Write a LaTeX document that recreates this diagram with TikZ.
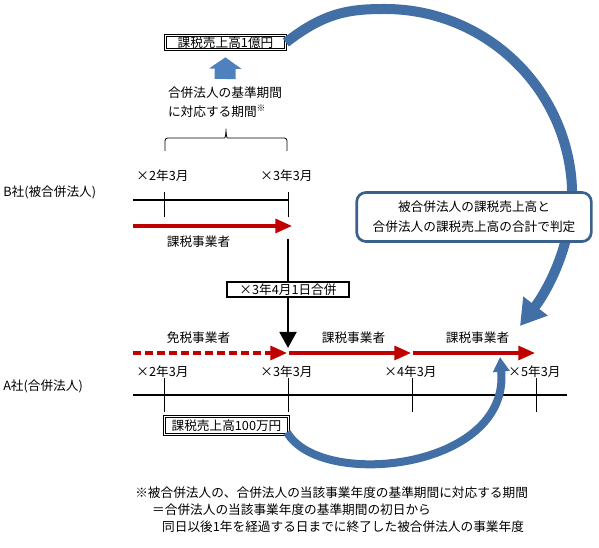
\documentclass[tikz,border=0pt]{standalone}
\usepackage{fontspec}
\setmainfont{Noto Sans CJK JP}
\usepackage{tikz}
\usetikzlibrary{arrows.meta,calc}
\usepackage{xcolor}
\definecolor{taxred}{RGB}{192,0,0}
\definecolor{officeblue}{RGB}{79,129,189}
\definecolor{officeedge}{RGB}{58,96,142}
\definecolor{curveblue}{RGB}{66,111,166}

\begin{document}
\begin{tikzpicture}[x=0.75pt, y=-0.75pt,
    every node/.style={font=\fontsize{9.5}{12.75}\selectfont},
    timeline/.style={line width=1.5pt},
    tickline/.style={line width=0.75pt},
    taxarrow/.style={line width=2.4pt, taxred, -{Triangle[length=12.5pt,width=10.5pt]}},
    freearrow/.style={taxarrow, dash pattern=on 6pt off 3pt},
    mergearrow/.style={line width=2.2pt, -{Triangle[length=12pt,width=12.5pt]}},
    uparrow/.style={line width=15.75pt, officeblue, -{Triangle[length=8.5pt,width=24pt]}},
    curvearrow/.style={curveblue},
    dblbox/.style={draw, double, double distance=1.2pt, line width=0.6pt, fill=white, inner sep=0pt},
    mergebox/.style={draw, line width=1.5pt, fill=white, inner sep=0pt},
    judgebox/.style={draw=officeedge, line width=2pt, rounded corners=7pt, fill=white, align=center,
        font=\fontsize{9.5}{15}\selectfont}
]
    \useasboundingbox (0,0) rectangle (599,548);

    % Threshold box and base period
    \node[dblbox, minimum width=90pt, minimum height=10.5pt] (oku) at (225.5,42.5) {課税売上高1億円};
    \node[anchor=north, align=left, inner sep=0pt, font=\fontsize{9.5}{14.25}\selectfont] (kijun) at (225,87)
        {合併法人の基準期間\\に対応する期間\textsuperscript{※}};
    \draw[uparrow, shorten <=6pt, shorten >=5.6pt] (kijun.north) -- (oku.south);

    % Brace over the B period
    \draw[line width=0.6pt, rounded corners=2pt] (165,151) |- (222,138)
        .. controls (225,138) and (226,135) .. (226,127)
        .. controls (226,135) and (227,138) .. (230,138) -| (287,151);

    % Company labels
    \node[anchor=west, inner sep=0pt] (bsha) at (3,192) {B社(被合併法人)};
    \node[anchor=west, inner sep=0pt] (asha) at (3,386) {A社(合併法人)};

    % B row
    \coordinate (b0) at (133,200);
    \coordinate (b2) at (288,200);
    \draw[timeline] (b0) -- (b2);
    \foreach \x/\n in {164/2,288/3} {
        \draw[tickline] (\x,192) -- (\x,217);
        \node (dB\n) at (\x-1.5,176) {×{\n}年3月};
    }
    \coordinate (rb0) at (133,226);
    \coordinate (rb1) at (292,226);
    \draw[taxarrow] (rb0) -- (rb1);
    \node (kazeiB) at (198.5,242) {課税事業者};

    % Merger
    \coordinate (m0) at (288,239);
    \coordinate (m1) at (288,348);
    \draw[mergearrow] (m0) -- (m1);
    \node[mergebox, minimum width=91.5pt, minimum height=11.25pt] (gappei) at (288,289.5) {×3年4月1日合併};

    % A row
    \coordinate (a0) at (133,395);
    \coordinate (a5) at (567,395);
    \draw[timeline] (a0) -- (a5);
    \foreach \x/\n in {164/2,288/3,412/4,536/5} {
        \draw[tickline] (\x,378) -- (\x,412);
        \node (dA\n) at (\x-1.5,372) {×{\n}年3月};
    }
    \coordinate (ra0) at (133,353);
    \coordinate (ra1) at (287,353);
    \coordinate (ra2) at (289,353);
    \coordinate (ra3) at (411,353);
    \coordinate (ra4) at (413,353);
    \coordinate (ra5) at (535,353);
    \draw[freearrow] (ra0) -- (ra1);
    \draw[taxarrow] (ra2) -- (ra3);
    \draw[taxarrow] (ra4) -- (ra5);
    \node (menzei) at (198.5,338) {免税事業者};
    \node (kazeiA1) at (353.5,338) {課税事業者};
    \node (kazeiA2) at (477.5,338) {課税事業者};

    \node[dblbox, minimum width=93pt, minimum height=13.5pt] (man) at (226.5,425.5) {課税売上高100万円};

    % Curved arrows
    \coordinate (bigtip) at (520,326);
    \coordinate (smalltip) at (500,357);
    \draw[curvearrow, line width=7.5pt, -{Triangle[length=19pt,width=22pt]}] (oku.east)
        .. controls (325,12) and (350,9) .. (385,9)
        .. controls (480,9) and (560,80) .. (571,175)
        .. controls (578,235) and (548,290) .. (bigtip);
    \draw[curvearrow, line width=6pt, -{Triangle[length=11pt,width=12pt]}] ([xshift=-1.5pt,yshift=-5pt]man.east)
        .. controls (320,490) and (510,470) .. (smalltip);

    \node[judgebox, minimum width=176pt, minimum height=36.75pt] (hantei) at (474,217)
        {被合併法人の課税売上高と\\合併法人の課税売上高の合計で判定};

    % Footnote
    \node[anchor=north west, inner sep=0pt, align=left] (chushaku) at (135,487)
        {※被合併法人の、合併法人の当該事業年度の基準期間に対応する期間\\
         \hspace*{1.34em}＝合併法人の当該事業年度の基準期間の初日から\\
         \hspace*{2.13em}同日以後1年を経過する日までに終了した被合併法人の事業年度};
\end{tikzpicture}
\end{document}
